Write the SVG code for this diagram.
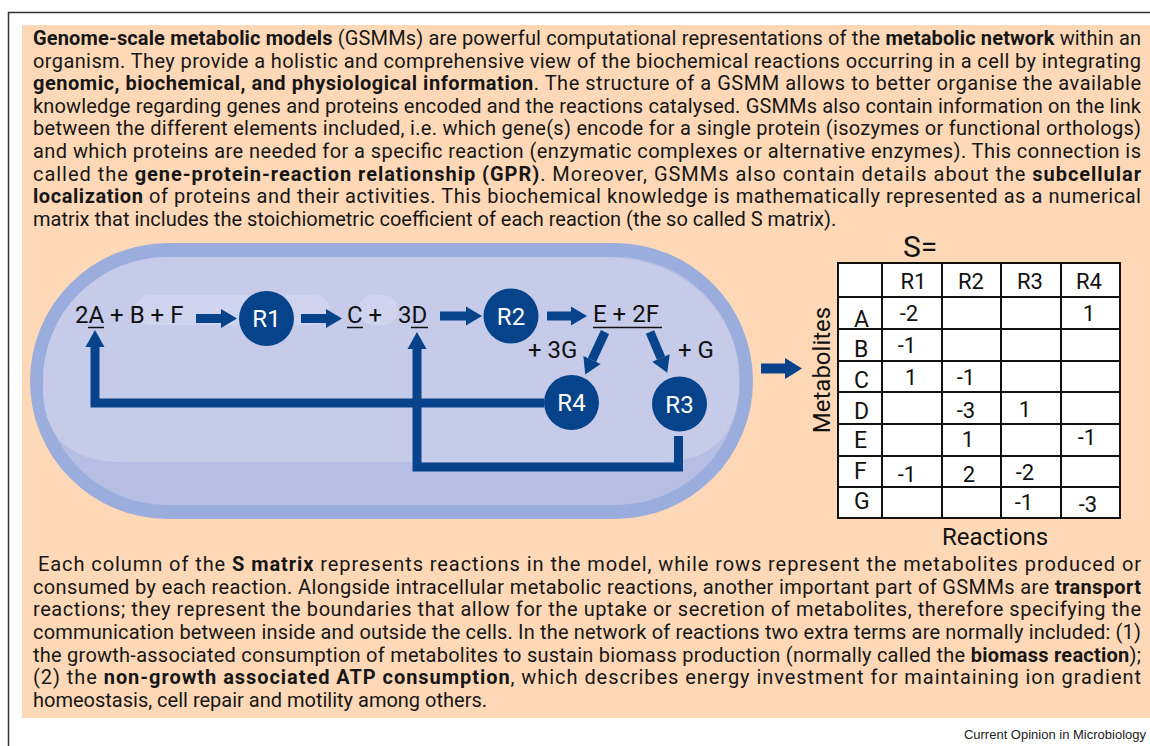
<svg xmlns="http://www.w3.org/2000/svg" width="1150" height="746" viewBox="0 0 1150 746">
<style>
.p{font-family:Roboto,"Liberation Sans",sans-serif;font-size:20px;fill:#161616}
.b{font-weight:700}
.m{font-family:Roboto,"Liberation Sans",sans-serif;font-size:24px;fill:#111}
.rl{font-family:Roboto,"Liberation Sans",sans-serif;font-size:24px;fill:#fff;text-anchor:middle}
.t{font-family:Roboto,"Liberation Sans",sans-serif;font-size:22px;fill:#111;text-anchor:middle}
.rowl{font-family:Roboto,"Liberation Sans",sans-serif;font-size:23px;fill:#111}
.node{fill:#06438A}
.fb{fill:none;stroke:#06438A;stroke-width:9}
.ar{stroke:#06438A;stroke-width:9;fill:none}
.ul{stroke:#111;stroke-width:1.5}
.grid{stroke:#111;stroke-width:2;fill:none}
</style>
<defs>
<marker id="ah" markerUnits="userSpaceOnUse" markerWidth="16" markerHeight="20" refX="0" refY="9.5" orient="auto" overflow="visible">
<path d="M0,0 L16,9.5 L0,19 Z" fill="#06438A"/>
</marker>
<marker id="ahb" markerUnits="userSpaceOnUse" markerWidth="17" markerHeight="21" refX="0" refY="10.5" orient="auto" overflow="visible">
<path d="M0,0 L17,10.5 L0,21 Z" fill="#06438A"/>
</marker>
</defs>

<rect x="0" y="0" width="1150" height="746" fill="#fff"/>
<path d="M8.5,746 V12.5 H1150" fill="none" stroke="#333" stroke-width="1.5"/>
<rect x="22" y="25" width="1128" height="693" fill="#FFD9B7"/>

<g id="intro-text">
<text class="p" x="33" y="45" textLength="1108" lengthAdjust="spacing"><tspan class="b">Genome-scale metabolic models</tspan> (GSMMs) are powerful computational representations of the <tspan class="b">metabolic network</tspan> within an</text>
<text class="p" x="33" y="67.6" textLength="1108" lengthAdjust="spacing">organism. They provide a holistic and comprehensive view of the biochemical reactions occurring in a cell by integrating</text>
<text class="p" x="33" y="90.2" textLength="1108" lengthAdjust="spacing"><tspan class="b">genomic, biochemical, and physiological information</tspan>. The structure of a GSMM allows to better organise the available</text>
<text class="p" x="33" y="112.8" textLength="1108" lengthAdjust="spacing">knowledge regarding genes and proteins encoded and the reactions catalysed. GSMMs also contain information on the link</text>
<text class="p" x="33" y="135.4" textLength="1108" lengthAdjust="spacing">between the different elements included, i.e. which gene(s) encode for a single protein (isozymes or functional orthologs)</text>
<text class="p" x="33" y="158" textLength="1108" lengthAdjust="spacing">and which proteins are needed for a specific reaction (enzymatic complexes or alternative enzymes). This connection is</text>
<text class="p" x="33" y="180.6" textLength="1108" lengthAdjust="spacing">called the <tspan class="b">gene-protein-reaction relationship (GPR)</tspan>. Moreover, GSMMs also contain details about the <tspan class="b">subcellular</tspan></text>
<text class="p" x="33" y="203.2" textLength="1108" lengthAdjust="spacing"><tspan class="b">localization</tspan> of proteins and their activities. This biochemical knowledge is mathematically represented as a numerical</text>
<text class="p" x="33" y="225.8">matrix that includes the stoichiometric coefficient of each reaction (the so called S matrix).</text>
</g>

<g id="cell">
<rect x="30" y="243" width="723" height="276" rx="138" ry="138" fill="#9AADDC"/>
<rect x="43" y="257" width="697" height="248" rx="124" ry="124" fill="#B6BEE4"/>
<path d="M43,381 A124,124 0 0 1 167,257 L604,257 C684,257 739,312 739,380 Q739,462 660,462 L122,462 Q46,462 43,392 Z" fill="#C6CBEA"/>
<rect x="135" y="295" width="195" height="30" rx="15" fill="#D0D4EF"/>
<rect x="358" y="295" width="40" height="30" rx="15" fill="#D0D4EF"/>
</g>

<g id="connectors">
<line class="ar" x1="196" y1="318.5" x2="221" y2="318.5" marker-end="url(#ah)"/>
<line class="ar" x1="301" y1="318.5" x2="326" y2="318.5" marker-end="url(#ah)"/>
<line class="ar" x1="440" y1="316" x2="466" y2="316" marker-end="url(#ah)"/>
<line class="ar" x1="547" y1="316" x2="571" y2="316" marker-end="url(#ah)"/>
<line class="ar" x1="605" y1="332" x2="592" y2="360" marker-end="url(#ah)"/>
<line class="ar" x1="650" y1="332" x2="661" y2="358" marker-end="url(#ah)"/>
<polyline class="fb" points="544,403 95,403 95,346"/>
<path d="M85.5,347 L95,330 L104.5,347 Z" fill="#06438A"/>
<polyline class="fb" points="678.5,436 678.5,467 417,467 417,348"/>
<path d="M407.5,349 L417,332 L426.5,349 Z" fill="#06438A"/>
<line x1="761" y1="368.5" x2="785" y2="368.5" stroke="#06438A" stroke-width="10" marker-end="url(#ahb)"/>
</g>

<g id="metabolites-left">
<text class="m" x="75" y="323">2A + B + F</text>
<line class="ul" x1="88" y1="327.5" x2="104" y2="327.5"/>
</g>
<g id="metabolites-mid">
<text class="m" x="347" y="323">C +</text>
<text class="m" x="398" y="323">3D</text>
<line class="ul" x1="347" y1="327.5" x2="363" y2="327.5"/>
<line class="ul" x1="411" y1="327.5" x2="428" y2="327.5"/>
</g>
<g id="metabolites-right">
<text class="m" x="593" y="322">E + 2F</text>
<line class="ul" x1="593" y1="327.5" x2="662" y2="327.5"/>
</g>
<g id="label-3G"><text class="m" x="528" y="358">+ 3G</text></g>
<g id="label-G"><text class="m" x="678" y="358">+ G</text></g>

<g id="R1"><circle class="node" cx="266.5" cy="318.5" r="27.5"/><text class="rl" x="266.5" y="327">R1</text></g>
<g id="R2"><circle class="node" cx="511" cy="316" r="27.5"/><text class="rl" x="511" y="324.5">R2</text></g>
<g id="R4"><circle class="node" cx="571.5" cy="402.5" r="27.5"/><text class="rl" x="571.5" y="411">R4</text></g>
<g id="R3"><circle class="node" cx="679.5" cy="404" r="27.5"/><text class="rl" x="679.5" y="412.5">R3</text></g>

<g id="s-matrix">
<text x="903" y="257" font-family="Roboto, 'Liberation Sans', sans-serif" font-size="30" fill="#111">S=</text>
<rect x="838" y="263" width="282" height="255" fill="#fff"/>
<path class="grid" d="M838,263 H1120 V518 H838 Z M882,263 V518 M942,263 V518 M1001,263 V518 M1061,263 V518 M838,297 H1120 M838,329 H1120 M838,361 H1120 M838,392 H1120 M838,424 H1120 M838,456 H1120 M838,487 H1120"/>
<text class="t" x="913.5" y="289">R1</text>
<text class="t" x="971" y="289">R2</text>
<text class="t" x="1030" y="289">R3</text>
<text class="t" x="1089" y="289">R4</text>
<text class="rowl" x="854" y="327">A</text>
<text class="rowl" x="854" y="357">B</text>
<text class="rowl" x="854" y="388">C</text>
<text class="rowl" x="854" y="419">D</text>
<text class="rowl" x="854" y="448">E</text>
<text class="rowl" x="854" y="479">F</text>
<text class="rowl" x="854" y="509">G</text>
<text class="t" x="909" y="321">-2</text>
<text class="t" x="1089" y="321">1</text>
<text class="t" x="907" y="353">-1</text>
<text class="t" x="911" y="385">1</text>
<text class="t" x="966" y="385">-1</text>
<text class="t" x="966" y="418">-3</text>
<text class="t" x="1025" y="417">1</text>
<text class="t" x="968" y="447">1</text>
<text class="t" x="1087" y="445">-1</text>
<text class="t" x="907" y="482">-1</text>
<text class="t" x="969" y="482">2</text>
<text class="t" x="1025" y="480">-2</text>
<text class="t" x="1024" y="510">-1</text>
<text class="t" x="1088" y="512">-3</text>
<text transform="translate(830,370) rotate(-90)" text-anchor="middle" font-family="Roboto, 'Liberation Sans', sans-serif" font-size="24" fill="#111">Metabolites</text>
<text x="995" y="545" text-anchor="middle" font-family="Roboto, 'Liberation Sans', sans-serif" font-size="24" fill="#111">Reactions</text>
</g>

<g id="detail-text">
<text class="p" x="38" y="571" textLength="1103" lengthAdjust="spacing">Each column of the <tspan class="b">S matrix</tspan> represents reactions in the model, while rows represent the metabolites produced or</text>
<text class="p" x="33" y="593.7" textLength="1108" lengthAdjust="spacing">consumed by each reaction. Alongside intracellular metabolic reactions, another important part of GSMMs are <tspan class="b">transport</tspan></text>
<text class="p" x="33" y="616.3" textLength="1108" lengthAdjust="spacing">reactions; they represent the boundaries that allow for the uptake or secretion of metabolites, therefore specifying the</text>
<text class="p" x="33" y="639" textLength="1108" lengthAdjust="spacing">communication between inside and outside the cells. In the network of reactions two extra terms are normally included: (1)</text>
<text class="p" x="33" y="661.7" textLength="1108" lengthAdjust="spacing">the growth-associated consumption of metabolites to sustain biomass production (normally called the <tspan class="b">biomass reaction</tspan>);</text>
<text class="p" x="33" y="684.3" textLength="1108" lengthAdjust="spacing">(2) the <tspan class="b">non-growth associated ATP consumption</tspan>, which describes energy investment for maintaining ion gradient</text>
<text class="p" x="33" y="707">homeostasis, cell repair and motility among others.</text>
</g>

<g id="footer">
<text x="1146" y="739" text-anchor="end" font-family="'Liberation Sans', Arial, sans-serif" font-size="13" fill="#222">Current Opinion in Microbiology</text>
</g>
</svg>
